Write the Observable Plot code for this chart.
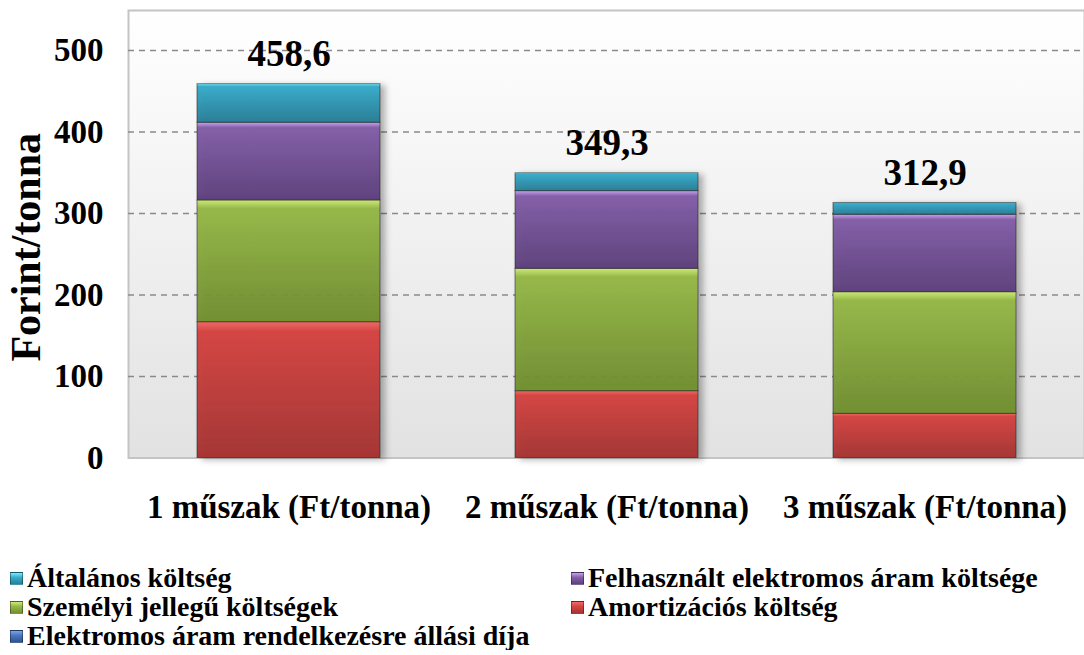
<!DOCTYPE html>
<html>
<head>
<meta charset="utf-8">
<script src="https://cdn.jsdelivr.net/npm/d3@7"></script>
<script src="https://cdn.jsdelivr.net/npm/@observablehq/plot@0.6"></script>
<style>
  body { margin: 0; background: #fff; font-family: "Liberation Serif", "Times New Roman", Times, "DejaVu Serif", serif; }
  #chart svg { display: block; }
  #chart svg text { font-family: "Liberation Serif", "Times New Roman", Times, "DejaVu Serif", serif; }
  #legend { position: relative; height: 100px; font-weight: bold; font-size: 28px; color: #000; }
  .item { position: absolute; display: flex; align-items: center; white-space: nowrap; }
  .sw { width: 13px; height: 13px; margin-right: 4px; box-sizing: border-box; border: 1px solid rgba(0,0,0,0.35); }
</style>
</head>
<body>
<div id="chart"></div>
<div id="legend"></div>
<script>
const categories = ["1 műszak (Ft/tonna)", "2 műszak (Ft/tonna)", "3 műszak (Ft/tonna)"];
const series = ["Amortizációs költség", "Személyi jellegű költségek", "Elektromos áram rendelkezésre állási díja", "Felhasznált elektromos áram költsége", "Általános költség"];
const amortizacios = [166.6, 82.0, 54.2];
const szemelyi = [149.4, 150.1, 149.2];
const rendelkezesre = [0, 0, 0];
const felhasznalt = [95.3, 95.3, 95.0];
const altalanos = [47.3, 21.9, 14.5];
const totals = [458.6, 349.3, 312.9];
const totalLabels = ["458,6", "349,3", "312,9"];
const yTicks = [0, 100, 200, 300, 400, 500];

const seriesValues = [amortizacios, szemelyi, rendelkezesre, felhasznalt, altalanos];
const colors = {
  "Amortizációs költség": ["#f06a68", "#d44644", "#a83331"],
  "Személyi jellegű költségek": ["#cdea78", "#96b84a", "#72912f"],
  "Elektromos áram rendelkezésre állási díja": ["#7aa6e6", "#4a78c0", "#2f5590"],
  "Felhasznált elektromos áram költsége": ["#c9a2ef", "#8460a8", "#5f407f"],
  "Általános költség": ["#74eefc", "#3aaccb", "#26809a"]
};
const ids = ["g0", "g1", "g2", "g3", "g4"];

const data = [];
categories.forEach((c, i) => {
  series.forEach((s, j) => data.push({cat: c, series: s, value: seriesValues[j][i]}));
});
const totalData = categories.map((c, i) => ({cat: c, total: totals[i], label: totalLabels[i]}));

const font = "'Liberation Serif', 'Times New Roman', Times, 'DejaVu Serif', serif";

const chart = Plot.plot({
  width: 1084,
  height: 550,
  marginLeft: 128,
  marginRight: 0,
  marginTop: 10,
  marginBottom: 92.5,
  style: {fontFamily: font, background: "transparent", overflow: "visible"},
  x: {domain: categories, paddingInner: 0.426, paddingOuter: 0.213, label: null},
  y: {domain: [0, 549], label: null},
  color: {type: "ordinal", domain: series, range: ids.map(id => `url(#${id})`)},
  marks: [
    Plot.frame({fill: "url(#bg)", stroke: "#c4c4c4", strokeWidth: 2}),
    Plot.ruleY(yTicks.filter(t => t > 0), {stroke: "#8a8a8a", strokeWidth: 1.5, strokeDasharray: "6,5"}),
    Plot.barY(data, {x: "cat", y: "value", fill: "series", order: series, stroke: "rgba(30,30,30,0.55)", strokeWidth: 1, filter: d => d.value > 0}),
    Plot.text(totalData, {x: "cat", y: "total", text: "label", dy: -30, fontSize: 37, fontWeight: "bold", fill: "#000"}),
    Plot.axisY({ticks: yTicks, tickSize: 0, tickPadding: 25, fontSize: 33, fontWeight: "bold", tickFormat: d => String(d), label: null}),
    Plot.axisX({tickSize: 0, tickPadding: 37, fontSize: 33, fontWeight: "bold", label: null}),
    Plot.text(["Forint/tonna"], {frameAnchor: "left", textAnchor: "middle", rotate: -90, dx: -102, dy: 13, fontSize: 42, fontWeight: "bold", fill: "#000"})
  ]
});

// gradients
const ns = "http://www.w3.org/2000/svg";
const defs = document.createElementNS(ns, "defs");
let html = `<linearGradient id="bg" x1="0" y1="0" x2="0" y2="1"><stop offset="0" stop-color="#ffffff"/><stop offset="1" stop-color="#e2e2e2"/></linearGradient>`;
series.forEach((s, j) => {
  const [l, m, d] = colors[s];
  html += `<linearGradient id="${ids[j]}" x1="0" y1="0" x2="0" y2="1">
    <stop offset="0" stop-color="${l}"/><stop offset="0.07" stop-color="${m}"/>
    <stop offset="0.9" stop-color="${d}" stop-opacity="0.95"/><stop offset="1" stop-color="${d}"/></linearGradient>`;
});
defs.innerHTML = html;
chart.insertBefore(defs, chart.firstChild);
chart.querySelectorAll("g[aria-label='bar']").forEach(g => g.style.filter = "drop-shadow(5px 2px 3px rgba(0,0,0,0.3))");
document.getElementById("chart").appendChild(chart);

// legend
const legendOrder = [
  ["Általános költség", 10, 28],
  ["Felhasznált elektromos áram költsége", 571, 28],
  ["Személyi jellegű költségek", 10, 57],
  ["Amortizációs költség", 571, 57],
  ["Elektromos áram rendelkezésre állási díja", 10, 86]
];
const legend = document.getElementById("legend");
legendOrder.forEach(([name, left, top]) => {
  const [l, m, d] = colors[name];
  const it = document.createElement("div");
  it.className = "item";
  it.style.left = left + "px";
  it.style.top = (top - 16) + "px";
  it.innerHTML = `<span class="sw" style="background: linear-gradient(${l}, ${m} 40%, ${d})"></span><span>${name}</span>`;
  legend.appendChild(it);
});
</script>
</body>
</html>
